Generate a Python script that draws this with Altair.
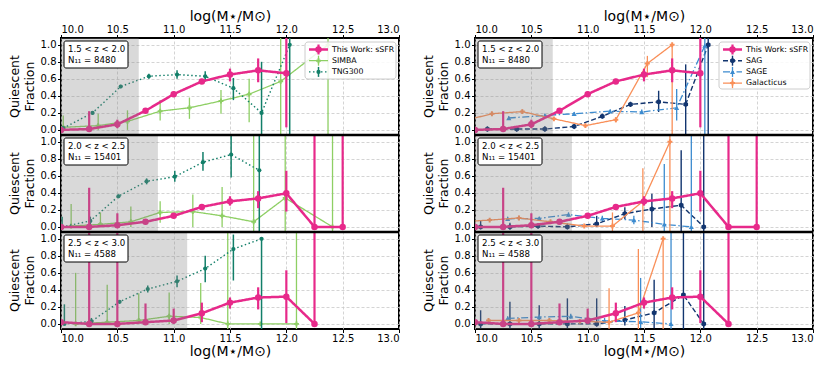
import altair as alt
import pandas as pd

FONT = "DejaVu Sans"
X_TICKS = [10.0, 10.5, 11.0, 11.5, 12.0, 12.5, 13.0]
Y_TICKS = [0.0, 0.2, 0.4, 0.6, 0.8, 1.0]
X_TITLE = "log(M⋆/M⊙)"
Y_TITLE = ["Quiescent", "Fraction"]
Z_LABELS = ["1.5 < z < 2.0", "2.0 < z < 2.5", "2.5 < z < 3.0"]
N_LABELS = ["N₁₁ = 8480", "N₁₁ = 15401", "N₁₁ = 4588"]
MASS_LIMIT = [10.69, 10.86, 11.12]

# ---- This Work: sSFR (per redshift bin: x, y, lower, upper) ----
tw_x = [[10.0, 10.25, 10.5, 10.75, 11.0, 11.25, 11.5, 11.75, 12.0],
        [10.0, 10.25, 10.5, 10.75, 11.0, 11.25, 11.5, 11.75, 12.0, 12.25, 12.5],
        [10.0, 10.25, 10.5, 10.75, 11.0, 11.25, 11.5, 11.75, 12.0, 12.25]]
tw_y = [[0.0, 0.01, 0.065, 0.225, 0.42, 0.57, 0.65, 0.70, 0.665],
        [0.0, 0.0, 0.02, 0.06, 0.13, 0.235, 0.30, 0.335, 0.395, 0.0, 0.0],
        [0.02, 0.0, 0.0, 0.02, 0.04, 0.125, 0.25, 0.31, 0.32, 0.0]]
tw_lo = [[0.0, 0.0, 0.02, 0.20, 0.39, 0.54, 0.57, 0.56, 0.03],
         [0.0, 0.0, 0.0, 0.03, 0.11, 0.21, 0.25, 0.22, 0.18, 0.0, 0.0],
         [0.0, 0.0, 0.0, 0.0, 0.0, 0.02, 0.18, 0.17, 0.01, 0.0]]
tw_hi = [[0.02, 0.22, 0.12, 0.25, 0.45, 0.60, 0.72, 0.84, 1.2],
         [0.02, 0.46, 0.16, 0.09, 0.15, 0.26, 0.36, 0.42, 0.66, 1.2, 1.2],
         [0.04, 1.2, 1.2, 0.24, 0.18, 0.25, 0.31, 0.43, 0.63, 1.2]]

# ---- SIMBA ----
simba_x = [[10.02, 10.33, 10.59, 10.88, 11.14, 11.42, 11.67, 11.95, 12.37],
           [10.09, 10.35, 10.62, 10.88, 11.17, 11.43, 11.71, 11.99, 12.41],
           [10.13, 10.41, 10.69, 10.96, 11.24, 11.48, 11.77, 12.09]]
simba_y = [[0.03, 0.05, 0.10, 0.22, 0.26, 0.34, 0.42, 0.57, 1.0],
           [0.01, 0.03, 0.06, 0.17, 0.18, 0.13, 0.06, 0.34, 0.0],
           [0.0, 0.02, 0.04, 0.09, 0.075, 0.0, 0.0, 0.0]]
simba_lo = [[0.0, 0.0, 0.0, 0.11, 0.13, 0.19, 0.09, -0.1, -0.1],
            [0.0, 0.0, 0.0, 0.05, 0.0, 0.0, -0.1, -0.1, -0.1],
            [0.0, 0.0, 0.0, 0.0, 0.0, -0.1, 0.0, -0.1]]
simba_hi = [[0.17, 0.19, 0.23, 0.35, 0.38, 0.47, 0.60, 1.2, 1.2],
            [0.27, 0.17, 0.24, 0.30, 0.38, 0.47, 1.2, 1.2, 1.2],
            [0.60, 0.46, 0.36, 0.37, 0.48, 1.2, 0.0, 1.2]]

# ---- TNG300 ----
tng_x = [[10.02, 10.28, 10.53, 10.78, 11.03, 11.28, 11.53, 11.78, 12.03],
         [10.01, 10.26, 10.51, 10.76, 11.01, 11.26, 11.51, 11.76],
         [10.03, 10.27, 10.52, 10.77, 11.03, 11.28, 11.53, 11.78]]
tng_y = [[0.02, 0.20, 0.51, 0.63, 0.65, 0.63, 0.49, 0.20, 1.0],
         [0.0, 0.07, 0.36, 0.535, 0.59, 0.76, 0.85, 0.665],
         [0.0, 0.03, 0.26, 0.41, 0.50, 0.65, 0.88, 1.0]]
tng_lo = [[0.0, 0.18, 0.49, 0.60, 0.60, 0.57, 0.35, -0.1, -0.1],
          [0.0, 0.02, 0.34, 0.50, 0.53, 0.66, 0.58, -0.1],
          [0.0, 0.0, 0.24, 0.37, 0.43, 0.49, 0.51, -0.1]]
tng_hi = [[0.04, 0.22, 0.53, 0.66, 0.70, 0.69, 0.61, 0.80, 1.2],
          [0.12, 0.12, 0.38, 0.57, 0.66, 0.88, 1.2, 1.2],
          [0.23, 0.07, 0.28, 0.45, 0.57, 0.80, 1.05, 1.0]]

# ---- SAG ----
sag_x = [[10.11, 10.37, 10.62, 10.88, 11.13, 11.38, 11.63, 11.87, 12.07],
         [10.05, 10.31, 10.56, 10.82, 11.08, 11.33, 11.57, 11.83, 12.03],
         [10.05, 10.31, 10.57, 10.82, 11.08, 11.33, 11.59, 11.85, 12.03]]
sag_y = [[0.01, 0.01, 0.01, 0.04, 0.16, 0.30, 0.33, 0.30, 1.0],
         [0.0, 0.0, 0.01, 0.0, 0.035, 0.155, 0.21, 0.255, 0.0],
         [0.0, 0.0, 0.0, 0.0, 0.0, 0.045, 0.13, 0.34, 0.0]]
sag_lo = [[-0.02, -0.02, -0.02, 0.02, 0.14, 0.27, 0.21, -0.1, -0.1],
          [-0.02, -0.03, -0.02, -0.02, 0.0, 0.09, 0.0, -0.1, -0.1],
          [-0.05, -0.05, -0.05, -0.05, -0.03, -0.02, -0.05, -0.1, -0.1]]
sag_hi = [[0.04, 0.04, 0.04, 0.06, 0.18, 0.33, 0.46, 0.77, 1.2],
          [0.07, 0.05, 0.04, 0.04, 0.13, 0.23, 0.39, 0.90, 1.2],
          [0.16, 0.26, 0.22, 0.30, 0.30, 0.21, 0.52, 1.2, 1.2]]

# ---- SAGE ----
sage_x = [[10.30, 10.62, 10.88, 11.20, 11.48, 11.79, 12.04],
          [10.29, 10.57, 10.83, 11.13, 11.41, 11.68, 11.92],
          [10.29, 10.57, 10.85, 11.15, 11.47, 11.74]]
sage_y = [[0.14, 0.17, 0.19, 0.22, 0.21, 0.26, 0.99],
          [0.095, 0.10, 0.145, 0.10, 0.08, 0.03, 0.0],
          [0.065, 0.08, 0.09, 0.035, 0.025, 0.0]]
sage_lo = [[0.12, 0.15, 0.17, 0.20, 0.19, 0.11, -0.1],
           [0.07, 0.08, 0.12, 0.07, 0.03, -0.1, -0.1],
           [0.04, 0.05, 0.06, 0.0, -0.05, -0.1]]
sage_hi = [[0.16, 0.19, 0.21, 0.24, 0.24, 0.48, 1.2],
           [0.12, 0.12, 0.17, 0.13, 0.13, 0.74, 1.2],
           [0.09, 0.11, 0.12, 0.07, 0.54, 1.2]]

# ---- Galacticus ----
gal_x = [[9.88, 10.15, 10.42, 10.70, 10.98, 11.25, 11.53, 11.75],
         [9.88, 10.13, 10.39, 10.67, 10.97, 11.22, 11.49, 11.73],
         [10.12, 10.39, 10.66, 10.93, 11.19, 11.45, 11.67]]
gal_y = [[0.10, 0.19, 0.215, 0.13, 0.05, 0.12, 0.78, 1.0],
         [0.06, 0.08, 0.105, 0.06, 0.01, 0.01, 0.30, 1.0],
         [0.04, 0.04, 0.04, 0.03, 0.02, 0.13, 1.0]]
gal_lo = [[0.08, 0.17, 0.19, 0.11, 0.03, 0.09, 0.62, -0.1],
          [0.04, 0.06, 0.08, 0.04, -0.01, -0.1, -0.1, -0.1],
          [0.02, 0.02, 0.02, 0.01, -0.1, -0.1, -0.1]]
gal_hi = [[0.12, 0.21, 0.24, 0.15, 0.07, 0.15, 0.87, 1.0],
          [0.08, 0.10, 0.13, 0.08, 0.03, 0.17, 0.69, 1.2],
          [0.06, 0.06, 0.06, 0.05, 0.42, 0.88, 1.0]]

SERIES = {
    "This Work: sSFR": (tw_x, tw_y, tw_lo, tw_hi),
    "SIMBA": (simba_x, simba_y, simba_lo, simba_hi),
    "TNG300": (tng_x, tng_y, tng_lo, tng_hi),
    "SAG": (sag_x, sag_y, sag_lo, sag_hi),
    "SAGE": (sage_x, sage_y, sage_lo, sage_hi),
    "Galacticus": (gal_x, gal_y, gal_lo, gal_hi),
}

HEX = "M0,-1L0.866,-0.5L0.866,0.5L0,1L-0.866,0.5L-0.866,-0.5Z"
STYLE = {
    "This Work: sSFR": dict(color="#e7298a", lw=2.5, dash=[1, 0], shape="circle", size=42, ew=2.2),
    "SIMBA": dict(color="#8ecf64", lw=1.3, dash=[1, 0], shape="cross", size=24, ew=1.3),
    "TNG300": dict(color="#127f69", lw=1.4, dash=[1.5, 2.5], shape="circle", size=18, ew=1.5),
    "SAG": dict(color="#12356f", lw=1.4, dash=[5, 2.5], shape=HEX, size=30, ew=1.4),
    "SAGE": dict(color="#3c8bcf", lw=1.3, dash=[7, 2.5, 1.5, 2.5], shape="triangle-up", size=26, ew=1.3),
    "Galacticus": dict(color="#f98f58", lw=1.3, dash=[1, 0], shape="cross", size=24, ew=1.3),
}

# layout: three stacked panels share one column; each panel spans YMIN..YMAX
W, PH = 338, 97
YMIN, YMAX = -0.06, 1.08
SPAN = YMAX - YMIN
DUMMY = pd.DataFrame({"d": [0]})


def offset(k):
    return (2 - k) * SPAN - YMIN


Y_VALUES = [round(offset(k) + t, 4) for k in range(3) for t in Y_TICKS]
LABEL_EXPR = f"format(abs(((datum.value + 0.0001) % {SPAN}) - {-YMIN + 0.0001}), '.1f')"

xscale = alt.Scale(domain=[10, 13], nice=False, zero=False)
yscale = alt.Scale(domain=[0, 3 * SPAN], nice=False, zero=False)
grid_kw = dict(grid=True, gridColor="#c9c9c9", gridDash=[3, 2], gridWidth=0.8)
xaxis_common = dict(values=X_TICKS, format=".1f", labelFontSize=10, titleFontSize=14,
                    tickSize=3.5, labelPadding=0.5, titlePadding=1, tickColor="black",
                    domain=False, labelFont=FONT, titleFont=FONT, titleFontWeight="normal",
                    labelColor="black", titleColor="black", title=X_TITLE)
XAXIS_TOP = alt.Axis(orient="top", **xaxis_common, **grid_kw)
XAXIS_BOTTOM = alt.Axis(orient="bottom", grid=False, **xaxis_common)
YAXIS = alt.Axis(values=Y_VALUES, labelExpr=LABEL_EXPR, title="", labelFontSize=10,
                 tickSize=3.5, labelPadding=1.5, tickColor="black", domain=False,
                 labelFont=FONT, labelColor="black", **grid_kw)


def X(f):
    return alt.X(f, type="quantitative", scale=xscale, axis=XAXIS_TOP)


def Y(f):
    return alt.Y(f, type="quantitative", scale=yscale, axis=YAXIS)


def series_df(name, k):
    x, y, lo, hi = SERIES[name]
    return pd.DataFrame({"x": x[k], "y": y[k], "lo": lo[k], "hi": hi[k]})


def make_column(comps, legend_h):
    layers = []
    d = alt.Chart(DUMMY)
    for k in range(3):
        off = offset(k)
        for name in comps + ["This Work: sSFR"]:
            st = STYLE[name]
            base = alt.Chart(series_df(name, k)).transform_calculate(
                Yp=f"datum.y + {off}",
                L=f"max(datum.lo, {YMIN}) + {off}",
                U=f"min(datum.hi, {YMAX}) + {off}",
            )
            layers.append(base.mark_rule(color=st["color"], strokeWidth=st["ew"], clip=True)
                          .encode(x=X("x"), y=Y("L"), y2="U"))
            layers.append(base.mark_line(color=st["color"], strokeWidth=st["lw"],
                                         strokeDash=st["dash"], clip=True)
                          .encode(x=X("x"), y=Y("Yp")))
            layers.append(base.mark_point(color=st["color"], filled=True, opacity=1,
                                          shape=st["shape"], size=st["size"], clip=True)
                          .encode(x=X("x"), y=Y("Yp")))

        top = k * PH
        layers.append(alt.Chart(pd.DataFrame({"x0": [10.0], "x1": [MASS_LIMIT[k]]}))
                      .mark_rect(color="#808080", opacity=0.3, clip=True)
                      .encode(x=X("x0"), x2="x1", y=alt.value(top), y2=alt.value(top + PH)))

        # redshift annotation box
        layers.append(d.mark_rect(fill="white", stroke="black", strokeWidth=1, cornerRadius=2)
                      .encode(x=alt.value(3), x2=alt.value(67), y=alt.value(top + 3),
                              y2=alt.value(top + 30)))
        layers.append(d.mark_text(align="left", baseline="middle", fontSize=8.6, font=FONT,
                                  color="black")
                      .encode(x=alt.value(7), y=alt.value(top + 11), text=alt.value(Z_LABELS[k])))
        layers.append(d.mark_text(align="left", baseline="middle", fontSize=8.6, font=FONT,
                                  color="black")
                      .encode(x=alt.value(7), y=alt.value(top + 22), text=alt.value(N_LABELS[k])))

        # y-axis title of this panel (two lines)
        for line, xpos in zip(Y_TITLE, (-46, -31)):
            layers.append(d.mark_text(angle=270, align="center", baseline="middle", fontSize=12.5,
                                      font=FONT, color="black")
                          .encode(x=alt.value(xpos), y=alt.value(top + PH / 2),
                                  text=alt.value(line)))

    # panel separators
    for k in (1, 2):
        layers.append(d.mark_rule(color="black", strokeWidth=2.5)
                      .encode(x=alt.value(0), x2=alt.value(W), y=alt.value(k * PH)))

    # legend (top panel)
    names = ["This Work: sSFR"] + comps
    layers.append(d.mark_rect(fill="white", fillOpacity=0.85, stroke="#cccccc", strokeWidth=1,
                              cornerRadius=3)
                  .encode(x=alt.value(244), x2=alt.value(335), y=alt.value(4), y2=alt.value(legend_h)))
    for j, name in enumerate(names):
        st = STYLE[name]
        yy = 11.5 + j * 11.2
        layers.append(d.mark_rule(color=st["color"], strokeWidth=st["lw"], strokeDash=st["dash"])
                      .encode(x=alt.value(248), x2=alt.value(267), y=alt.value(yy)))
        layers.append(d.mark_rule(color=st["color"], strokeWidth=st["ew"])
                      .encode(x=alt.value(257.5), y=alt.value(yy - 5), y2=alt.value(yy + 5)))
        layers.append(d.mark_point(color=st["color"], filled=True, opacity=1, shape=st["shape"],
                                   size=st["size"])
                      .encode(x=alt.value(257.5), y=alt.value(yy)))
        layers.append(d.mark_text(align="left", baseline="middle", fontSize=7.8, font=FONT,
                                  color="black")
                      .encode(x=alt.value(271), y=alt.value(yy), text=alt.value(name)))

    inner = alt.layer(*layers)
    bottom_axis = alt.Chart(pd.DataFrame({"x": [10.0, 13.0]})).mark_point(opacity=0).encode(
        x=alt.X("x:Q", scale=xscale, axis=XAXIS_BOTTOM), y=alt.value(0))
    return alt.layer(inner, bottom_axis).resolve_axis(x="independent").properties(
        width=W, height=3 * PH)


left = make_column(["SIMBA", "TNG300"], 41)
right = make_column(["SAG", "SAGE", "Galacticus"], 51)

chart = alt.hconcat(left, right, spacing=19).properties(
    padding={"left": 0, "top": 0, "right": 2, "bottom": 2}
).configure(font=FONT).configure_view(stroke="black", strokeWidth=2)

chart.save("out.html", embed_options={"renderer": "svg", "actions": False})
